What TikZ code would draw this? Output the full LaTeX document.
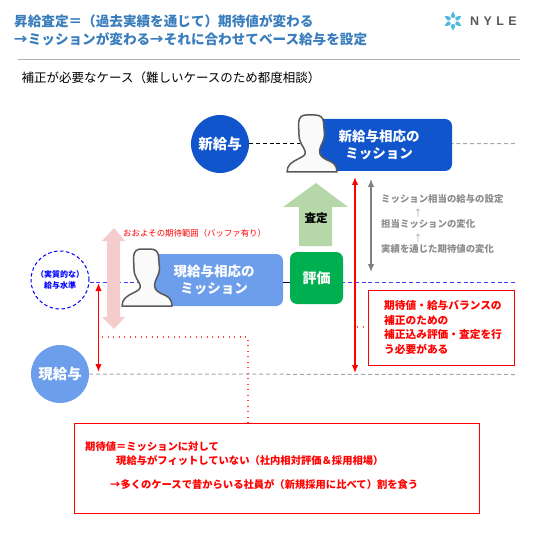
\documentclass[tikz,border=0pt]{standalone}
\usepackage{fontspec}
\setmainfont{Noto Sans CJK JP}
\newfontfamily\logofont[LetterSpace=35]{Liberation Sans}
\usepackage{xcolor}
\usepackage{tikz}
\usetikzlibrary{positioning, calc, arrows.meta}

\definecolor{titleblue}{HTML}{3A7DBC}
\definecolor{darkblue}{HTML}{1155CC}
\definecolor{lightblue}{HTML}{6D9EEB}
\definecolor{evalgreen}{HTML}{00B050}
\definecolor{arrowgreen}{HTML}{B6D7A8}
\definecolor{pinkarrow}{HTML}{F4CCCC}
\definecolor{greytext}{HTML}{8C8C8C}
\definecolor{logocyan}{HTML}{4FB9DE}

\tikzset{
  person/.pic={
    \draw[fill=black!2, draw=black!65, line width=1.5pt, line join=round]
      (0,57) .. controls (0,50) and (5,47) .. (11,44)
      .. controls (17,41) and (19,40) .. (18,36)
      .. controls (17,32) and (12,28) .. (12,20) -- (11.5,8)
      .. controls (12,2) and (15,0) .. (19,0) -- (28,0)
      .. controls (33,0) and (36,2) .. (36.5,7) -- (37.5,20)
      .. controls (37.5,26) and (33,30) .. (32.5,36)
      .. controls (32.5,41) and (36,43) .. (40,45)
      .. controls (46,47) and (50,50) .. (50,57) -- cycle;
  }
}

\begin{document}
\begin{tikzpicture}[x=1pt, y=-1pt, >={Latex[length=8pt,width=6.5pt]},
  jp/.style={inner sep=0pt, align=left, anchor=west},
  salary/.style={circle, minimum size=58pt, inner sep=0pt, text=white, font=\fontsize{14.5}{16}\bfseries\selectfont},
  mission/.style={rectangle, rounded corners=7pt, minimum height=52pt, inner sep=0pt, align=center, text=white, font=\fontsize{13.5}{16.5}\bfseries\selectfont},
  redbox/.style={rectangle, draw=red, line width=1.2pt, inner sep=0pt, anchor=north west},
  redtext/.style={jp, text=red, font=\fontsize{10.7}{14.4}\bfseries\selectfont},
  greynote/.style={jp, text=greytext, font=\fontsize{9.4}{11}\bfseries\selectfont},
  uparrow/.style={inner sep=0pt, text=black!35, font=\fontsize{9}{10}\selectfont},
  leader/.style={red!75, line width=1.2pt, dash pattern=on 1.3pt off 4.2pt},
  level/.style={line width=1pt, dash pattern=on 4pt off 2.8pt}]

\useasboundingbox (0,0) rectangle (534,534);

% Header
\node[jp, text=titleblue, font=\fontsize{13.6}{17.5}\bfseries\selectfont] (title) at (14,30) {昇給査定＝（過去実績を通じて）期待値が変わる\\→ミッションが変わる→それに合わせてベース給与を設定};
\coordinate (ruleL) at (18,60);
\coordinate (ruleR) at (520,60);
\draw[black!30, line width=1pt] (ruleL) -- (ruleR);
\node[jp, font=\fontsize{12.5}{14}\selectfont] (subtitle) at (21.5,78) {補正が必要なケース（難しいケースのため都度相談）};

% Logo
\foreach \a in {30,90,...,330} {
  \fill[logocyan, shift={(453,21)}, rotate=\a] (3,0) .. controls (3,2.8) and (6,2.6) .. (9.5,0) .. controls (6,-2.6) and (3,-2.8) .. (3,0) -- cycle;
}
\node[jp, text=black!65, font=\logofont\bfseries\fontsize{12.5}{14}\selectfont] (logotext) at (470,21) {NYLE};

% Red dotted leaders
\coordinate (dotA) at (102,337);
\coordinate (dotB) at (248,337);
\coordinate (dotC) at (357,327);
\node[redbox, minimum width=405pt, minimum height=90pt] (lowerbox) at (74,423) {};
\node[redbox, minimum width=146pt, minimum height=75pt] (rightbox) at (368,290) {};
\draw[leader] (dotA) -- (dotB) -- (lowerbox.north -| dotB);
\draw[leader] (dotC) -- (rightbox.west |- dotC);

% Salary levels
\node[salary, fill=darkblue] (newpay) at (220,144) {新給与};
\node[salary, fill=lightblue] (curpay) at (60,374) {現給与};
\node[salary, draw=blue, line width=1pt, dash pattern=on 3.5pt off 2.5pt, align=center, text=blue, font=\fontsize{8}{11}\bfseries\selectfont] (realpay) at (60,280) {（実質的な）\\給与水準};

\coordinate (newend) at (515,143.5);
\coordinate (newhead) at (300,144);
\coordinate (realend) at (515,282.5);
\coordinate (curend) at (515,374.5);
\draw[black!35, level] (curpay) -- (curend);
\draw[blue!75, level] (realpay.east |- realend) -- (realend);
\draw[black!35, level] (newhead) -- (newend);
\draw[black, level] (newpay) -- (newhead);

% Range arrow
\fill[pinkarrow] (114,228) -- (125,241) -- (120,241) -- (120,317) -- (125,317) -- (114,329) -- (102,317) -- (107,317) -- (107,241) -- (102,241) -- cycle;
\node[jp, text=red, font=\fontsize{8.4}{10}\selectfont] (rangetext) at (123,233) {おおよその期待範囲（バッファ有り）};

% Mission boxes
\node[mission, fill=darkblue, minimum width=146pt] (newmission) at (379,145) {新給与相応の\\ミッション};
\node[mission, fill=lightblue, minimum width=138pt] (curmission) at (214,280) {現給与相応の\\ミッション};
\pic at (287,115) {person};
\pic at (122,249) {person};
\node[rectangle, rounded corners=7pt, fill=evalgreen, minimum width=53pt, minimum height=52pt, text=white, font=\fontsize{14}{16}\bfseries\selectfont] (evalbox) at (316.5,278) {評価};
\draw[black!70!blue, line width=0.8pt] (curmission.east |- realend) -- (evalbox.west |- realend);

% Assessment arrow
\fill[arrowgreen] (316,183) -- (348,207) -- (332,207) -- (332,246) -- (299,246) -- (299,207) -- (283,207) -- cycle;
\node[inner sep=0pt, font=\fontsize{11.5}{13}\bfseries\selectfont] (assess) at (316,218) {査定};

% Vertical arrows
\coordinate (redtop) at (355,177);
\coordinate (redbot) at (355,373);
\coordinate (greytop) at (371,179);
\coordinate (greybot) at (371,272);
\coordinate (gaptop) at (98.5,283);
\coordinate (gapbot) at (98.5,372);
\draw[<->, red, line width=1.4pt] (redtop) -- (redbot);
\draw[<->, black!50, line width=1.2pt] (greytop) -- (greybot);
\draw[<->, red, line width=1.4pt] (gaptop) -- (gapbot);

% Grey notes
\node[greynote] (note1) at (381,199) {ミッション相当の給与の設定};
\node[uparrow] (up1) at (418,213) {↑};
\node[greynote] (note2) at (381,224) {担当ミッションの変化};
\node[uparrow] (up2) at (418,238) {↑};
\node[greynote] (note3) at (381,249) {実績を通じた期待値の変化};

% Red notes
\node[redtext] (righttext) at (384,327.5) {期待値・給与バランスの\\補正のための\\補正込み評価・査定を行\\う必要がある};
\node[redtext, font=\fontsize{10.3}{14}\bfseries\selectfont] (low1) at (85,447) {期待値＝ミッションに対して};
\node[redtext, font=\fontsize{10.3}{14}\bfseries\selectfont] (low2) at (116,461) {現給与がフィットしていない（社内相対評価＆採用相場）};
\node[redtext, font=\fontsize{10.3}{14}\bfseries\selectfont] (low3) at (110,485) {→多くのケースで昔からいる社員が（新規採用に比べて）割を食う};

\end{tikzpicture}
\end{document}
